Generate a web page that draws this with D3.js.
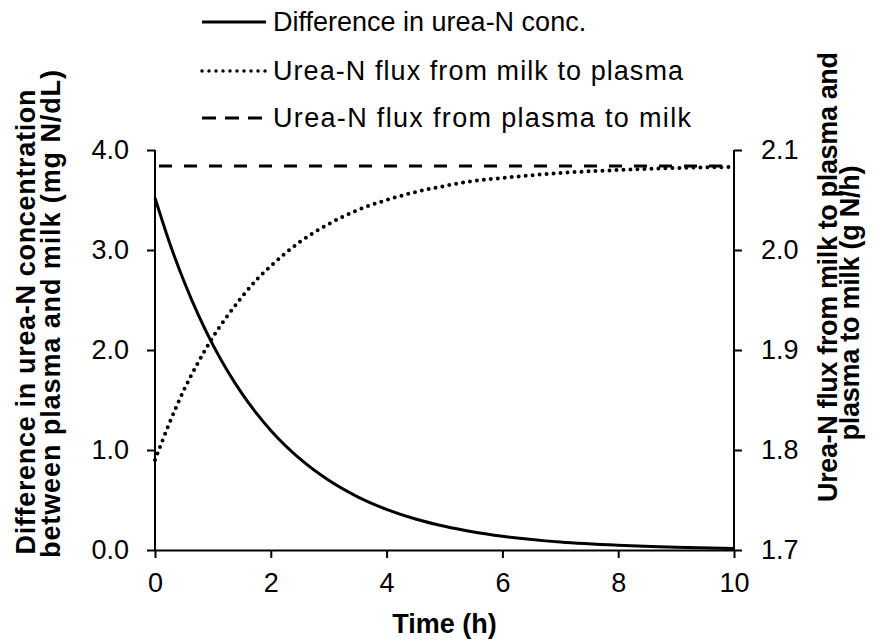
<!DOCTYPE html>
<html><head><meta charset="utf-8">
<script src="https://cdn.jsdelivr.net/npm/d3@7"></script>
<style>body{margin:0;background:#fff}svg{display:block}text{font-family:"Liberation Sans",Arial,sans-serif;fill:#000}</style>
</head><body><svg id="c" width="880" height="641"></svg>
<script>
const time = [0,0.25,0.5,0.75,1,1.25,1.5,1.75,2,2.5,3,3.5,4,4.5,5,5.5,6,7,8,9,10];
const diffConc = [3.52,3.075,2.687,2.348,2.051,1.792,1.566,1.368,1.195,0.913,0.697,0.532,0.406,0.310,0.237,0.181,0.138,0.080,0.047,0.027,0.016];
const fluxMilkToPlasma = [1.790,1.827,1.860,1.888,1.913,1.934,1.953,1.970,1.984,2.008,2.026,2.040,2.050,2.058,2.064,2.069,2.072,2.077,2.080,2.082,2.083];
const fluxPlasmaToMilk = [2.084,2.084];
const fluxTime = [0,10];
const xTicks = [0,2,4,6,8,10];
const yLeftTicks = [0,1,2,3,4];
const yRightTicks = [1.7,1.8,1.9,2.0,2.1];
const legendLabels = ["Difference in urea-N conc.","Urea-N flux from milk to plasma","Urea-N flux from plasma to milk"];

const svg = d3.select("#c");
const L=155,R=734,T=150,B=550;
const x = d3.scaleLinear().domain([0,10]).range([L,R]);
const yL = d3.scaleLinear().domain([0,4]).range([B,T]);
const yR = d3.scaleLinear().domain([1.7,2.1]).range([B,T]);
const FS = 27;

// axes
const gx = svg.append("g").attr("transform",`translate(0,${B})`)
  .call(d3.axisBottom(x).tickValues(xTicks).tickSize(8).tickSizeOuter(0).tickPadding(15).tickFormat(d3.format("d")));
const gl = svg.append("g").attr("transform",`translate(${L},0)`)
  .call(d3.axisLeft(yL).tickValues(yLeftTicks).tickSize(8).tickSizeOuter(0).tickPadding(18).tickFormat(d3.format(".1f")));
const gr = svg.append("g").attr("transform",`translate(${R},0)`)
  .call(d3.axisRight(yR).tickValues(yRightTicks).tickSize(8).tickSizeOuter(0).tickPadding(19).tickFormat(d3.format(".1f")));
[gx,gl,gr].forEach(g=>{
  g.selectAll("path.domain").attr("stroke","#000").attr("stroke-width",2);
  g.selectAll(".tick line").attr("stroke","#000").attr("stroke-width",2);
  g.selectAll(".tick text").attr("font-size",FS).attr("font-family","Liberation Sans, Arial, sans-serif").attr("fill","#000");
});
gl.select("path.domain").attr("d",`M0,${T}V${B}`);
gr.select("path.domain").attr("d",`M0,${T}V${B}`);

// lines
const lineL = d3.line().x((d,i)=>x(time[i])).y(d=>yL(d)).curve(d3.curveMonotoneX);
const lineR = d3.line().x((d,i)=>x(time[i])).y(d=>yR(d)).curve(d3.curveMonotoneX);
svg.append("path").attr("d",d3.line().x((d,i)=>x(fluxTime[i])).y(d=>yR(d))(fluxPlasmaToMilk))
  .attr("fill","none").attr("stroke","#000").attr("stroke-width",3).attr("stroke-dasharray","13,12").attr("stroke-dashoffset",-4);
svg.append("path").attr("d",lineR(fluxMilkToPlasma))
  .attr("fill","none").attr("stroke","#000").attr("stroke-width",4).attr("stroke-linecap","round").attr("stroke-dasharray","0,7");
svg.append("path").attr("d",lineL(diffConc))
  .attr("fill","none").attr("stroke","#000").attr("stroke-width",3);

// legend
const lg = svg.append("g");
const rows = [22,71,118];
const lens = [null,410,418];
const styles = [{da:null,w:3},{da:"0,7",w:3.5,cap:"round"},{da:"14,9",w:3}];
legendLabels.forEach((t,i)=>{
  const ln = lg.append("line").attr("x1",202).attr("x2",266).attr("y1",rows[i]).attr("y2",rows[i])
    .attr("stroke","#000").attr("stroke-width",styles[i].w);
  if(styles[i].da) ln.attr("stroke-dasharray",styles[i].da);
  if(styles[i].cap) ln.attr("stroke-linecap",styles[i].cap);
  const tx = lg.append("text").attr("x",273).attr("y",rows[i]).attr("dy","0.35em").attr("font-size",FS).text(t);
  if(lens[i]) tx.attr("textLength",lens[i]).attr("lengthAdjust","spacing");
});

// axis titles
svg.append("text").attr("x",(L+R)/2).attr("y",633).attr("text-anchor","middle")
  .attr("font-size",FS).attr("font-weight","bold").text("Time (h)");
const titles = [
  ["Difference in urea-N concentration",26,322,465],
  ["between plasma and milk (mg N/dL)",51,314,488],
  ["Urea-N flux from milk to plasma and",828,277,450],
  ["plasma to milk (g N/h)",850,303,275]
];
titles.forEach(([t,cx,cy,len])=>{
  svg.append("text").attr("transform",`translate(${cx},${cy}) rotate(-90)`).attr("text-anchor","middle")
    .attr("dy","0.35em").attr("font-size",FS).attr("font-weight","bold")
    .attr("textLength",len).attr("lengthAdjust","spacing").text(t);
});
</script></body></html>
